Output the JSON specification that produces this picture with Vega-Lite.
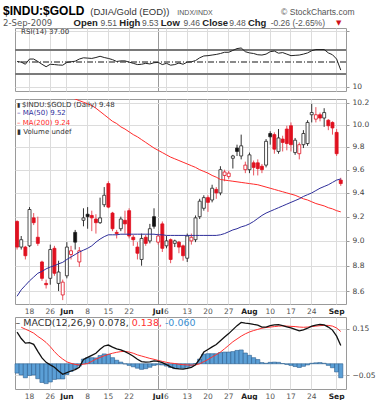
{
"$schema":"https://vega.github.io/schema/vega-lite/v6.json",
"padding":{"left":2,"top":4,"right":4,"bottom":2},
"bounds":"flush",
"spacing":3.5,
"config":{"view":{"stroke":"#9a9a9a","strokeWidth":1},"font":"DejaVu Sans","text":{"font":"DejaVu Sans"},
 "axis":{"labelFont":"DejaVu Sans","labelFontSize":7.5,"labelColor":"#444","gridColor":"#dcdcdc","domain":false,"ticks":false}},
"datasets":{"p":[
{"d":"2009-05-13","o":9.16,"h":9.17,"l":8.93,"c":8.95,"dir":"d","m50":8.56,"m200":10.62,"rsi":51,"macd":0.135,"sig":null,"hist":-0.040},
{"d":"2009-05-14","o":8.95,"h":9.04,"l":8.93,"c":9.01,"dir":"u","m50":8.61,"m200":10.59,"rsi":50,"macd":0.108,"sig":0.156,"hist":-0.048},
{"d":"2009-05-15","o":8.95,"h":8.96,"l":8.85,"c":8.88,"dir":"d","m50":8.645,"m200":10.56,"rsi":46.5,"macd":0.088,"sig":0.148,"hist":-0.060},
{"d":"2009-05-18","o":8.96,"h":9.28,"l":8.95,"c":9.26,"dir":"u","m50":8.68,"m200":10.53,"rsi":55,"macd":0.090,"sig":0.140,"hist":-0.050},
{"d":"2009-05-19","o":9.19,"h":9.23,"l":9.13,"c":9.15,"dir":"d","m50":8.71,"m200":10.50,"rsi":55,"macd":0.083,"sig":0.131,"hist":-0.048},
{"d":"2009-05-20","o":9.03,"h":9.20,"l":8.96,"c":8.98,"dir":"d","m50":8.74,"m200":10.47,"rsi":51,"macd":0.053,"sig":0.117,"hist":-0.064},
{"d":"2009-05-21","o":8.83,"h":8.84,"l":8.68,"c":8.70,"dir":"d","m50":8.755,"m200":10.44,"rsi":46.5,"macd":0.025,"sig":0.105,"hist":-0.080},
{"d":"2009-05-22","o":8.66,"h":8.69,"l":8.62,"c":8.65,"dir":"d","m50":8.775,"m200":10.41,"rsi":42.5,"macd":0.006,"sig":0.091,"hist":-0.085},
{"d":"2009-05-26","o":8.70,"h":8.97,"l":8.65,"c":8.93,"dir":"u","m50":8.79,"m200":10.38,"rsi":46.5,"macd":-0.005,"sig":0.073,"hist":-0.078},
{"d":"2009-05-27","o":8.94,"h":8.96,"l":8.72,"c":8.74,"dir":"d","m50":8.80,"m200":10.35,"rsi":46,"macd":-0.015,"sig":0.052,"hist":-0.067},
{"d":"2009-05-28","o":8.66,"h":8.84,"l":8.60,"c":8.75,"dir":"u","m50":8.815,"m200":10.32,"rsi":45.3,"macd":-0.031,"sig":0.034,"hist":-0.065},
{"d":"2009-05-29","o":8.57,"h":8.69,"l":8.53,"c":8.67,"dir":"d","m50":8.827,"m200":10.29,"rsi":45,"macd":-0.045,"sig":0.020,"hist":-0.065},
{"d":"2009-06-01","o":8.72,"h":8.99,"l":8.70,"c":8.95,"dir":"u","m50":8.85,"m200":10.27,"rsi":49.5,"macd":-0.038,"sig":0.008,"hist":-0.046},
{"d":"2009-06-02","o":8.89,"h":8.96,"l":8.85,"c":8.92,"dir":"d","m50":8.87,"m200":10.25,"rsi":50.5,"macd":-0.031,"sig":0.002,"hist":-0.033},
{"d":"2009-06-03","o":9.07,"h":9.09,"l":8.93,"c":8.99,"dir":"u","m50":8.89,"m200":10.235,"rsi":51.5,"macd":-0.025,"sig":-0.003,"hist":-0.022},
{"d":"2009-06-04","o":8.83,"h":8.95,"l":8.79,"c":8.92,"dir":"d","m50":8.91,"m200":10.22,"rsi":55,"macd":-0.015,"sig":-0.005,"hist":-0.010},
{"d":"2009-06-05","o":9.17,"h":9.27,"l":9.12,"c":9.19,"dir":"u","m50":8.925,"m200":10.205,"rsi":57,"macd":0.018,"sig":-0.002,"hist":0.020},
{"d":"2009-06-08","o":9.22,"h":9.28,"l":9.10,"c":9.20,"dir":"u","m50":8.94,"m200":10.19,"rsi":56.5,"macd":0.027,"sig":0.001,"hist":0.026},
{"d":"2009-06-09","o":9.21,"h":9.25,"l":9.08,"c":9.19,"dir":"d","m50":8.96,"m200":10.175,"rsi":56,"macd":0.036,"sig":0.010,"hist":0.026},
{"d":"2009-06-10","o":9.18,"h":9.22,"l":9.06,"c":9.15,"dir":"d","m50":8.99,"m200":10.15,"rsi":57.5,"macd":0.045,"sig":0.020,"hist":0.025},
{"d":"2009-06-11","o":9.15,"h":9.36,"l":9.14,"c":9.19,"dir":"u","m50":9.015,"m200":10.12,"rsi":59.5,"macd":0.062,"sig":0.027,"hist":0.035},
{"d":"2009-06-12","o":9.30,"h":9.45,"l":9.28,"c":9.38,"dir":"u","m50":9.035,"m200":10.09,"rsi":57.5,"macd":0.076,"sig":0.034,"hist":0.042},
{"d":"2009-06-15","o":9.48,"h":9.50,"l":9.27,"c":9.28,"dir":"d","m50":9.05,"m200":10.06,"rsi":56,"macd":0.080,"sig":0.040,"hist":0.040},
{"d":"2009-06-16","o":9.23,"h":9.24,"l":9.08,"c":9.10,"dir":"d","m50":9.05,"m200":10.03,"rsi":54,"macd":0.071,"sig":0.045,"hist":0.026},
{"d":"2009-06-17","o":9.07,"h":9.09,"l":9.02,"c":9.06,"dir":"d","m50":9.05,"m200":10.01,"rsi":51,"macd":0.064,"sig":0.049,"hist":0.015},
{"d":"2009-06-18","o":9.10,"h":9.20,"l":9.08,"c":9.18,"dir":"u","m50":9.055,"m200":9.98,"rsi":52,"macd":0.059,"sig":0.052,"hist":0.007},
{"d":"2009-06-19","o":9.17,"h":9.25,"l":9.06,"c":9.14,"dir":"d","m50":9.055,"m200":9.96,"rsi":52,"macd":0.052,"sig":0.053,"hist":-0.001},
{"d":"2009-06-22","o":9.25,"h":9.27,"l":9.02,"c":9.04,"dir":"d","m50":9.055,"m200":9.935,"rsi":50,"macd":0.043,"sig":0.050,"hist":-0.007},
{"d":"2009-06-23","o":9.03,"h":9.05,"l":8.96,"c":9.01,"dir":"d","m50":9.055,"m200":9.91,"rsi":48,"macd":0.032,"sig":0.045,"hist":-0.013},
{"d":"2009-06-24","o":8.95,"h":8.99,"l":8.85,"c":8.90,"dir":"d","m50":9.055,"m200":9.89,"rsi":46,"macd":0.019,"sig":0.038,"hist":-0.019},
{"d":"2009-06-25","o":8.85,"h":9.06,"l":8.80,"c":9.02,"dir":"u","m50":9.055,"m200":9.865,"rsi":46.5,"macd":0.009,"sig":0.033,"hist":-0.024},
{"d":"2009-06-26","o":9.03,"h":9.05,"l":8.96,"c":8.98,"dir":"d","m50":9.055,"m200":9.84,"rsi":48,"macd":0.007,"sig":0.028,"hist":-0.021},
{"d":"2009-06-29","o":9.00,"h":9.14,"l":8.98,"c":9.10,"dir":"u","m50":9.055,"m200":9.815,"rsi":47,"macd":0.008,"sig":0.023,"hist":-0.015},
{"d":"2009-06-30","o":9.20,"h":9.27,"l":9.10,"c":9.12,"dir":"u","m50":9.055,"m200":9.79,"rsi":49,"macd":0.012,"sig":0.019,"hist":-0.007},
{"d":"2009-07-01","o":8.99,"h":9.06,"l":8.97,"c":9.04,"dir":"d","m50":9.05,"m200":9.77,"rsi":49.5,"macd":0.010,"sig":0.014,"hist":-0.004},
{"d":"2009-07-02","o":9.14,"h":9.16,"l":8.91,"c":8.94,"dir":"d","m50":9.05,"m200":9.75,"rsi":46,"macd":0.005,"sig":0.010,"hist":-0.005},
{"d":"2009-07-06","o":8.96,"h":9.04,"l":8.94,"c":9.00,"dir":"u","m50":9.045,"m200":9.73,"rsi":48,"macd":-0.004,"sig":0.006,"hist":-0.010},
{"d":"2009-07-07","o":9.01,"h":9.02,"l":8.82,"c":8.85,"dir":"d","m50":9.045,"m200":9.71,"rsi":45,"macd":-0.013,"sig":0.003,"hist":-0.016},
{"d":"2009-07-08","o":8.98,"h":9.01,"l":8.95,"c":9.00,"dir":"u","m50":9.045,"m200":9.695,"rsi":46,"macd":-0.020,"sig":0.001,"hist":-0.021},
{"d":"2009-07-09","o":8.99,"h":9.00,"l":8.90,"c":8.95,"dir":"d","m50":9.045,"m200":9.68,"rsi":48.5,"macd":-0.022,"sig":-0.002,"hist":-0.020},
{"d":"2009-07-10","o":8.96,"h":8.97,"l":8.84,"c":8.88,"dir":"d","m50":9.045,"m200":9.665,"rsi":46.5,"macd":-0.023,"sig":-0.004,"hist":-0.019},
{"d":"2009-07-13","o":8.86,"h":9.06,"l":8.83,"c":9.04,"dir":"u","m50":9.045,"m200":9.65,"rsi":50,"macd":-0.020,"sig":-0.005,"hist":-0.015},
{"d":"2009-07-14","o":9.00,"h":9.06,"l":8.97,"c":9.03,"dir":"d","m50":9.045,"m200":9.635,"rsi":50.5,"macd":-0.016,"sig":-0.006,"hist":-0.010},
{"d":"2009-07-15","o":9.01,"h":9.21,"l":8.99,"c":9.19,"dir":"u","m50":9.045,"m200":9.62,"rsi":52.5,"macd":-0.004,"sig":-0.005,"hist":0.001},
{"d":"2009-07-16","o":9.20,"h":9.35,"l":9.18,"c":9.33,"dir":"u","m50":9.045,"m200":9.60,"rsi":57,"macd":0.020,"sig":0.000,"hist":0.020},
{"d":"2009-07-17","o":9.27,"h":9.38,"l":9.25,"c":9.36,"dir":"u","m50":9.045,"m200":9.585,"rsi":60,"macd":0.050,"sig":0.009,"hist":0.041},
{"d":"2009-07-20","o":9.36,"h":9.38,"l":9.24,"c":9.32,"dir":"d","m50":9.045,"m200":9.57,"rsi":60.5,"macd":0.061,"sig":0.018,"hist":0.043},
{"d":"2009-07-21","o":9.34,"h":9.47,"l":9.32,"c":9.44,"dir":"u","m50":9.045,"m200":9.55,"rsi":61.5,"macd":0.072,"sig":0.029,"hist":0.043},
{"d":"2009-07-22","o":9.43,"h":9.45,"l":9.35,"c":9.40,"dir":"d","m50":9.045,"m200":9.535,"rsi":62.5,"macd":0.082,"sig":0.039,"hist":0.043},
{"d":"2009-07-23","o":9.40,"h":9.63,"l":9.38,"c":9.60,"dir":"u","m50":9.05,"m200":9.515,"rsi":64,"macd":0.098,"sig":0.050,"hist":0.048},
{"d":"2009-07-24","o":9.55,"h":9.60,"l":9.50,"c":9.58,"dir":"d","m50":9.06,"m200":9.51,"rsi":66,"macd":0.114,"sig":0.064,"hist":0.050},
{"d":"2009-07-27","o":9.54,"h":9.59,"l":9.52,"c":9.57,"dir":"d","m50":9.075,"m200":9.505,"rsi":66,"macd":0.129,"sig":0.079,"hist":0.050},
{"d":"2009-07-28","o":9.70,"h":9.73,"l":9.61,"c":9.72,"dir":"u","m50":9.09,"m200":9.50,"rsi":69,"macd":0.146,"sig":0.094,"hist":0.052},
{"d":"2009-07-29","o":9.79,"h":9.82,"l":9.72,"c":9.76,"dir":"u","m50":9.10,"m200":9.495,"rsi":72,"macd":0.163,"sig":0.106,"hist":0.057},
{"d":"2009-07-30","o":9.72,"h":9.91,"l":9.69,"c":9.81,"dir":"u","m50":9.115,"m200":9.49,"rsi":73,"macd":0.177,"sig":0.118,"hist":0.059},
{"d":"2009-07-31","o":9.60,"h":9.67,"l":9.57,"c":9.64,"dir":"d","m50":9.125,"m200":9.485,"rsi":67,"macd":0.174,"sig":0.128,"hist":0.046},
{"d":"2009-08-03","o":9.60,"h":9.75,"l":9.57,"c":9.73,"dir":"u","m50":9.14,"m200":9.48,"rsi":65,"macd":0.172,"sig":0.136,"hist":0.036},
{"d":"2009-08-04","o":9.66,"h":9.68,"l":9.55,"c":9.62,"dir":"d","m50":9.16,"m200":9.475,"rsi":64,"macd":0.168,"sig":0.142,"hist":0.026},
{"d":"2009-08-05","o":9.66,"h":9.69,"l":9.55,"c":9.61,"dir":"d","m50":9.185,"m200":9.47,"rsi":62,"macd":0.165,"sig":0.147,"hist":0.018},
{"d":"2009-08-06","o":9.63,"h":9.65,"l":9.57,"c":9.60,"dir":"d","m50":9.21,"m200":9.46,"rsi":61.5,"macd":0.157,"sig":0.152,"hist":0.005},
{"d":"2009-08-07","o":9.64,"h":9.87,"l":9.62,"c":9.85,"dir":"u","m50":9.23,"m200":9.45,"rsi":63,"macd":0.157,"sig":0.155,"hist":0.002},
{"d":"2009-08-10","o":9.92,"h":9.94,"l":9.82,"c":9.89,"dir":"u","m50":9.245,"m200":9.44,"rsi":67,"macd":0.163,"sig":0.157,"hist":0.006},
{"d":"2009-08-11","o":9.91,"h":9.93,"l":9.74,"c":9.78,"dir":"d","m50":9.26,"m200":9.43,"rsi":68,"macd":0.166,"sig":0.159,"hist":0.007},
{"d":"2009-08-12","o":9.76,"h":9.96,"l":9.74,"c":9.88,"dir":"u","m50":9.275,"m200":9.42,"rsi":64.5,"macd":0.167,"sig":0.161,"hist":0.006},
{"d":"2009-08-13","o":9.87,"h":9.90,"l":9.76,"c":9.84,"dir":"d","m50":9.29,"m200":9.41,"rsi":65.5,"macd":0.163,"sig":0.162,"hist":0.001},
{"d":"2009-08-14","o":9.96,"h":9.99,"l":9.77,"c":9.83,"dir":"d","m50":9.305,"m200":9.40,"rsi":63,"macd":0.158,"sig":0.161,"hist":-0.003},
{"d":"2009-08-17","o":9.99,"h":10.02,"l":9.76,"c":9.82,"dir":"d","m50":9.32,"m200":9.39,"rsi":60.5,"macd":0.153,"sig":0.160,"hist":-0.007},
{"d":"2009-08-18","o":9.75,"h":9.88,"l":9.73,"c":9.86,"dir":"u","m50":9.335,"m200":9.38,"rsi":61,"macd":0.147,"sig":0.159,"hist":-0.012},
{"d":"2009-08-19","o":9.74,"h":9.84,"l":9.69,"c":9.82,"dir":"d","m50":9.35,"m200":9.365,"rsi":61.5,"macd":0.141,"sig":0.157,"hist":-0.016},
{"d":"2009-08-20","o":9.82,"h":9.95,"l":9.79,"c":9.92,"dir":"u","m50":9.37,"m200":9.35,"rsi":63,"macd":0.145,"sig":0.156,"hist":-0.011},
{"d":"2009-08-21","o":9.83,"h":10.04,"l":9.81,"c":10.02,"dir":"u","m50":9.385,"m200":9.34,"rsi":65,"macd":0.152,"sig":0.157,"hist":-0.005},
{"d":"2009-08-24","o":10.09,"h":10.19,"l":10.02,"c":10.11,"dir":"u","m50":9.40,"m200":9.325,"rsi":68.5,"macd":0.161,"sig":0.159,"hist":0.002},
{"d":"2009-08-25","o":10.05,"h":10.16,"l":10.02,"c":10.09,"dir":"d","m50":9.42,"m200":9.31,"rsi":70.5,"macd":0.165,"sig":0.161,"hist":0.004},
{"d":"2009-08-26","o":10.09,"h":10.11,"l":10.03,"c":10.06,"dir":"d","m50":9.44,"m200":9.30,"rsi":70.5,"macd":0.168,"sig":0.163,"hist":0.005},
{"d":"2009-08-27","o":10.06,"h":10.15,"l":9.98,"c":10.11,"dir":"u","m50":9.455,"m200":9.29,"rsi":70.5,"macd":0.166,"sig":0.164,"hist":0.002},
{"d":"2009-08-28","o":10.04,"h":10.05,"l":9.95,"c":9.99,"dir":"d","m50":9.47,"m200":9.275,"rsi":65,"macd":0.157,"sig":0.164,"hist":-0.007},
{"d":"2009-08-31","o":10.02,"h":10.03,"l":9.91,"c":9.97,"dir":"d","m50":9.49,"m200":9.265,"rsi":62,"macd":0.144,"sig":0.161,"hist":-0.017},
{"d":"2009-09-01","o":9.93,"h":9.96,"l":9.72,"c":9.74,"dir":"d","m50":9.51,"m200":9.25,"rsi":55,"macd":0.118,"sig":0.153,"hist":-0.035},
{"d":"2009-09-02","o":9.51,"h":9.53,"l":9.46,"c":9.48,"dir":"d","m50":9.52,"m200":9.24,"rsi":37,"macd":0.078,"sig":0.138,"hist":-0.060}
]},
"vconcat":[
{"width":331,"height":63,"data":{"name":"p"},
 "layer":[
  {"mark":{"type":"rule","color":"#7a7a7a","strokeWidth":1},"encoding":{"y":{"datum":70}}},
  {"mark":{"type":"rule","color":"#7a7a7a","strokeWidth":1},"encoding":{"y":{"datum":30}}},
  {"mark":{"type":"rule","color":"#8a8a8a","strokeWidth":1,"strokeDash":[6,2,1,2]},"encoding":{"y":{"datum":50}}},
  {"mark":{"type":"line","color":"#222222","strokeWidth":1,"clip":true},
   "encoding":{
    "x":{"field":"d","type":"ordinal","title":null,"scale":{"type":"band","paddingInner":0,"paddingOuter":0.38,"align":0},
      "axis":{"values":["2009-05-18","2009-05-26","2009-06-01","2009-06-08","2009-06-15","2009-06-22","2009-07-01","2009-07-06","2009-07-13","2009-07-20","2009-07-27","2009-08-03","2009-08-10","2009-08-17","2009-08-24","2009-09-01"],
       "labels":false,"bandPosition":0.5,"grid":true,"gridColor":{"condition":{"test":"datum.value == '2009-07-01'","value":"#9a9a9a"},"value":"#dcdcdc"}}},
    "y":{"field":"rsi","type":"quantitative","title":null,"scale":{"domain":[3,105.5],"nice":false,"zero":false},
      "axis":{"orient":"right","values":[10,20,30,40,50,60,70,80,90,100],"labelExpr":"datum.value % 20 == 10 ? datum.label : ''","grid":true,"ticks":true,"tickSize":3,"tickColor":"#999","labelPadding":3}}}},
  {"data":{"values":[{"t":"RSI(14) 37.00","d":"2009-05-13"}]},
   "mark":{"type":"text","align":"left","baseline":"middle","dx":4,"dy":4,"fontSize":7,"color":"#333"},
   "encoding":{"x":{"field":"d","type":"ordinal","title":null},"y":{"datum":105.5},"text":{"field":"t"}}},
  {"data":{"values":[{"t":"$INDU:$GOLD","d":"2009-05-13"}]},
   "mark":{"type":"text","align":"left","baseline":"alphabetic","dx":-14,"dy":-13,"font":"Liberation Sans","fontSize":12,"fontWeight":"bold","color":"#000"},
   "encoding":{"x":{"field":"d","type":"ordinal","title":null},"y":{"datum":105.5},"text":{"field":"t"}}},
  {"data":{"values":[{"t":"(DJIA/Gold (EOD))","d":"2009-06-12"}]},
   "mark":{"type":"text","align":"left","baseline":"alphabetic","dx":-14,"dy":-13,"font":"Liberation Sans","fontSize":9.5,"color":"#333"},
   "encoding":{"x":{"field":"d","type":"ordinal","title":null},"y":{"datum":105.5},"text":{"field":"t"}}},
  {"data":{"values":[{"t":"INDX/INDX","d":"2009-07-14"}]},
   "mark":{"type":"text","align":"left","baseline":"alphabetic","dx":-14,"dy":-13,"font":"Liberation Sans","fontSize":7,"color":"#555"},
   "encoding":{"x":{"field":"d","type":"ordinal","title":null},"y":{"datum":105.5},"text":{"field":"t"}}},
  {"data":{"values":[{"t":"© StockCharts.com","d":"2009-08-18"}]},
   "mark":{"type":"text","align":"left","baseline":"alphabetic","dx":-14,"dy":-13,"font":"Liberation Sans","fontSize":8.5,"color":"#555"},
   "encoding":{"x":{"field":"d","type":"ordinal","title":null},"y":{"datum":105.5},"text":{"field":"t"}}},
  {"data":{"values":[{"t":"2-Sep-2009","d":"2009-05-13"}]},
   "mark":{"type":"text","align":"left","baseline":"alphabetic","dx":-14,"dy":-2,"fontSize":8.5,"color":"#555"},
   "encoding":{"x":{"field":"d","type":"ordinal","title":null},"y":{"datum":105.5},"text":{"field":"t"}}},
  {"data":{"values":[{"t":"Open","d":"2009-06-08"},{"t":"High","d":"2009-06-23"},{"t":"Low","d":"2009-07-08"},{"t":"Close","d":"2009-07-22"},{"t":"Chg","d":"2009-08-06"}]},
   "mark":{"type":"text","align":"left","baseline":"alphabetic","dx":-14,"dy":-2,"font":"Liberation Sans","fontSize":9.5,"fontWeight":"bold","color":"#222"},
   "encoding":{"x":{"field":"d","type":"ordinal","title":null},"y":{"datum":105.5},"text":{"field":"t"}}},
  {"data":{"values":[{"t":"9.51","d":"2009-06-16"},{"t":"9.53","d":"2009-06-30"},{"t":"9.46","d":"2009-07-15"},{"t":"9.48","d":"2009-07-30"},{"t":"-0.26 (-2.65%)","d":"2009-08-13"}]},
   "mark":{"type":"text","align":"left","baseline":"alphabetic","dx":-12,"dy":-2,"font":"Liberation Sans","fontSize":8.5,"color":"#555"},
   "encoding":{"x":{"field":"d","type":"ordinal","title":null},"y":{"datum":105.5},"text":{"field":"t"}}},
  {"data":{"values":[{"t":"▼","d":"2009-09-02"}]},
   "mark":{"type":"text","align":"center","baseline":"alphabetic","dx":-2,"dy":-3,"fontSize":7,"color":"#d0101a"},
   "encoding":{"x":{"field":"d","type":"ordinal","title":null},"y":{"datum":105.5},"text":{"field":"t"}}}
 ]},
{"width":331,"height":1,"view":{"stroke":null},"data":{"values":[{"a":1}]},"mark":{"type":"point","opacity":0},"encoding":{}},
{"width":331,"height":205,"data":{"name":"p"},
 "layer":[
  {"mark":{"type":"rule","strokeWidth":1},
   "encoding":{
    "x":{"field":"d","type":"ordinal","title":null,"scale":{"type":"band","paddingInner":0,"paddingOuter":0.38,"align":0},
      "axis":{"values":["2009-05-18","2009-05-26","2009-06-01","2009-06-08","2009-06-15","2009-06-22","2009-07-01","2009-07-06","2009-07-13","2009-07-20","2009-07-27","2009-08-03","2009-08-10","2009-08-17","2009-08-24","2009-09-01"],
       "labelExpr":"datum.value == '2009-06-01' ? 'Jun' : datum.value == '2009-07-01' ? 'Jul' : datum.value == '2009-08-03' ? 'Aug' : datum.value == '2009-09-01' ? 'Sep' : '' + toNumber(substring(datum.value, 8, 10))",
       "bandPosition":0.5,"grid":true,"labelAngle":0,"labelPadding":3,"labelOverlap":false,
       "gridColor":{"condition":{"test":"datum.value == '2009-07-01'","value":"#9a9a9a"},"value":"#dcdcdc"},
       "labelFontWeight":{"condition":{"test":"indexof(['2009-06-01','2009-07-01','2009-08-03','2009-09-01'], datum.value) >= 0","value":"bold"},"value":"normal"},
       "labelColor":{"condition":{"test":"indexof(['2009-06-01','2009-07-01','2009-08-03','2009-09-01'], datum.value) >= 0","value":"#222"},"value":"#555"}}},
    "y":{"field":"l","type":"quantitative","title":null,"scale":{"type":"log","domain":[8.5,10.235],"nice":false,"zero":false},
      "axis":{"orient":"right","values":[8.6,8.8,9.0,9.2,9.4,9.6,9.8,10.0,10.2],"format":".1f","grid":true,"ticks":true,"tickSize":3,"tickColor":"#999","labelPadding":3}},
    "y2":{"field":"h"},
    "color":{"field":"dir","type":"nominal","scale":{"domain":["u","d"],"range":["#333333","#e8525d"]},"legend":null}}},
  {"mark":{"type":"bar","width":{"band":0.72},"strokeWidth":0.8},
   "encoding":{
    "x":{"field":"d","type":"ordinal","title":null},
    "y":{"field":"o","type":"quantitative","title":null},
    "y2":{"field":"c"},
    "fill":{"condition":{"test":"datum.c >= datum.o","value":"#ffffff"},"field":"dir","type":"nominal","scale":{"domain":["u","d"],"range":["#111111","#e0101f"]},"legend":null},
    "stroke":{"field":"dir","type":"nominal","scale":{"domain":["u","d"],"range":["#222222","#e0101f"]},"legend":null}}},
  {"mark":{"type":"line","color":"#ff2a2a","strokeWidth":1,"clip":true},
   "encoding":{"x":{"field":"d","type":"ordinal","title":null},"y":{"field":"m200","type":"quantitative","title":null}}},
  {"mark":{"type":"line","color":"#2e2e9a","strokeWidth":1,"clip":true},
   "encoding":{"x":{"field":"d","type":"ordinal","title":null},"y":{"field":"m50","type":"quantitative","title":null}}},
  {"data":{"values":[{"t":"$INDU:$GOLD (Daily) 9.48","d":"2009-05-13"}]},
   "mark":{"type":"text","align":"left","baseline":"middle","dx":5,"dy":5.5,"fontSize":7,"color":"#333"},
   "encoding":{"x":{"field":"d","type":"ordinal","title":null},"y":{"datum":10.235},"text":{"field":"t"}}},
  {"data":{"values":[{"t":"▮","d":"2009-05-13"}]},
   "mark":{"type":"text","align":"left","baseline":"middle","dx":0,"dy":5.5,"fontSize":6,"color":"#333"},
   "encoding":{"x":{"field":"d","type":"ordinal","title":null},"y":{"datum":10.235},"text":{"field":"t"}}},
  {"data":{"values":[{"t":"– MA(50) 9.52","d":"2009-05-13"}]},
   "mark":{"type":"text","align":"left","baseline":"middle","dx":0,"dy":14,"fontSize":7,"color":"#2e2e9a"},
   "encoding":{"x":{"field":"d","type":"ordinal","title":null},"y":{"datum":10.235},"text":{"field":"t"}}},
  {"data":{"values":[{"t":"– MA(200) 9.24","d":"2009-05-13"}]},
   "mark":{"type":"text","align":"left","baseline":"middle","dx":0,"dy":23.5,"fontSize":7,"color":"#ff2a2a"},
   "encoding":{"x":{"field":"d","type":"ordinal","title":null},"y":{"datum":10.235},"text":{"field":"t"}}},
  {"data":{"values":[{"t":"▮ Volume undef","d":"2009-05-13"}]},
   "mark":{"type":"text","align":"left","baseline":"middle","dx":0,"dy":33,"fontSize":7,"color":"#333"},
   "encoding":{"x":{"field":"d","type":"ordinal","title":null},"y":{"datum":10.235},"text":{"field":"t"}}}
 ]},
{"width":331,"height":6,"view":{"stroke":null},"data":{"values":[{"a":1}]},"mark":{"type":"point","opacity":0},"encoding":{}},
{"width":331,"height":72,"data":{"name":"p"},
 "layer":[
  {"mark":{"type":"bar","fill":"#5b9fd6","stroke":"#2b5e8e","strokeWidth":0.6},
   "encoding":{
    "x":{"field":"d","type":"ordinal","title":null,"scale":{"type":"band","paddingInner":0,"paddingOuter":0.38,"align":0},
      "axis":{"values":["2009-05-18","2009-05-26","2009-06-01","2009-06-08","2009-06-15","2009-06-22","2009-07-01","2009-07-06","2009-07-13","2009-07-20","2009-07-27","2009-08-03","2009-08-10","2009-08-17","2009-08-24","2009-09-01"],
       "labelExpr":"datum.value == '2009-06-01' ? 'Jun' : datum.value == '2009-07-01' ? 'Jul' : datum.value == '2009-08-03' ? 'Aug' : datum.value == '2009-09-01' ? 'Sep' : '' + toNumber(substring(datum.value, 8, 10))",
       "bandPosition":0.5,"grid":true,"labelAngle":0,"labelPadding":3,"labelOverlap":false,
       "gridColor":{"condition":{"test":"datum.value == '2009-07-01'","value":"#9a9a9a"},"value":"#dcdcdc"},
       "labelFontWeight":{"condition":{"test":"indexof(['2009-06-01','2009-07-01','2009-08-03','2009-09-01'], datum.value) >= 0","value":"bold"},"value":"normal"},
       "labelColor":{"condition":{"test":"indexof(['2009-06-01','2009-07-01','2009-08-03','2009-09-01'], datum.value) >= 0","value":"#222"},"value":"#555"}}},
    "y":{"field":"hist","type":"quantitative","title":null,"scale":{"domain":[-0.108,0.2],"nice":false,"zero":false},
      "axis":{"orient":"right","values":[-0.05,0,0.05,0.1,0.15],"format":".2f","grid":true,"ticks":true,"tickSize":3,"tickColor":"#999","labelPadding":3}},
    "y2":{"datum":0}}},
  {"mark":{"type":"line","color":"#ff3030","strokeWidth":1,"clip":true},
   "encoding":{"x":{"field":"d","type":"ordinal","title":null},"y":{"field":"sig","type":"quantitative","title":null}}},
  {"mark":{"type":"line","color":"#111111","strokeWidth":1.3,"clip":true},
   "encoding":{"x":{"field":"d","type":"ordinal","title":null},"y":{"field":"macd","type":"quantitative","title":null}}},
  {"data":{"values":[{"t":"– MACD(12,26,9) 0.078,","d":"2009-05-18"}]},
   "mark":{"type":"text","align":"left","baseline":"middle","dx":-14,"dy":6,"fontSize":9.5,"color":"#333"},
   "encoding":{"x":{"field":"d","type":"ordinal","title":null},"y":{"datum":0.2},"text":{"field":"t"}}},
  {"data":{"values":[{"t":"0.138,","d":"2009-06-26"}]},
   "mark":{"type":"text","align":"left","baseline":"middle","dx":-14,"dy":6,"fontSize":9.5,"color":"#ff3030"},
   "encoding":{"x":{"field":"d","type":"ordinal","title":null},"y":{"datum":0.2},"text":{"field":"t"}}},
  {"data":{"values":[{"t":"-0.060","d":"2009-07-09"}]},
   "mark":{"type":"text","align":"left","baseline":"middle","dx":-14,"dy":6,"fontSize":9.5,"color":"#3a8fd0"},
   "encoding":{"x":{"field":"d","type":"ordinal","title":null},"y":{"datum":0.2},"text":{"field":"t"}}}
 ]}
]
}
